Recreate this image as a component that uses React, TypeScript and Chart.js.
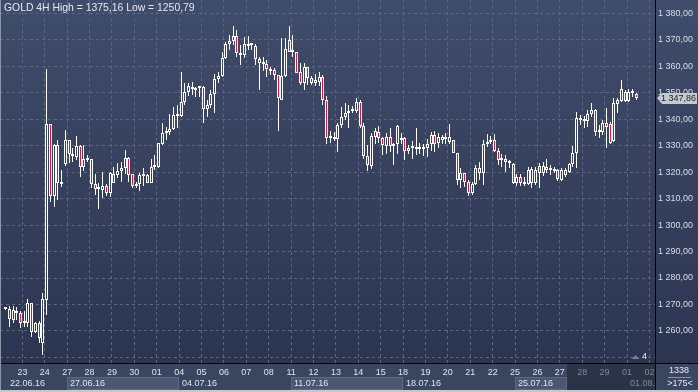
import React, { useEffect, useRef } from "react";
import { Chart, registerables } from "chart.js";
Chart.register(...registerables);

// GOLD 4H candles, index 1..170 (slot 0 empty)
const FIRST = 1;
const opens = [
  1268.6, 1268.2, 1264.3, 1267.6, 1266.6, 1262.9, 1262.9, 1270.4, 1259.7, 1262.9,
  1255.5, 1271.7, 1338.2, 1311.1, 1330.2, 1315.5, 1323.0, 1332.1, 1326.7, 1325.8,
  1329.8, 1322.0, 1324.6, 1324.9, 1315.5, 1313.5, 1313.2, 1314.7, 1312.0, 1316.0,
  1318.9, 1320.4, 1321.4, 1325.2, 1319.1, 1314.9, 1315.5, 1318.6, 1318.9, 1316.0,
  1321.8, 1321.8, 1330.6, 1334.6, 1335.3, 1336.1, 1341.2, 1341.2, 1346.6, 1350.1,
  1352.3, 1351.0, 1351.6, 1352.0, 1343.7, 1345.3, 1349.4, 1355.0, 1356.3, 1363.0,
  1368.4, 1369.6, 1371.4, 1364.1, 1364.1, 1368.4, 1367.9, 1367.6, 1362.6, 1361.3,
  1360.7, 1358.8, 1358.5, 1356.6, 1347.2, 1356.3, 1369.9, 1365.6, 1365.5, 1357.9,
  1353.5, 1359.6, 1355.4, 1353.5, 1354.1, 1355.8, 1347.4, 1332.7, 1333.1, 1332.5,
  1337.8, 1340.9, 1342.2, 1343.0, 1342.9, 1346.6, 1337.4, 1326.0, 1322.3, 1333.4,
  1335.3, 1332.7, 1329.8, 1333.1, 1329.8, 1330.8, 1332.7, 1332.7, 1328.0, 1329.0,
  1329.3, 1328.8, 1328.9, 1329.1, 1330.6, 1334.2, 1331.1, 1332.1, 1332.5, 1331.5,
  1332.1, 1327.3, 1317.0, 1319.5, 1316.4, 1312.0, 1315.5, 1321.4, 1319.8, 1330.5,
  1331.5, 1332.1, 1328.0, 1324.9, 1325.0, 1323.9, 1323.0, 1315.7, 1318.0, 1315.5,
  1315.5, 1315.7, 1315.7, 1322.3, 1319.5, 1322.0, 1321.4, 1320.8, 1320.8, 1317.0,
  1318.9, 1320.2, 1323.0, 1327.3, 1340.3, 1339.9, 1339.3, 1341.9, 1343.4, 1335.0,
  1335.0, 1338.4, 1338.2, 1331.7, 1345.9, 1347.0, 1350.4, 1347.0, 1350.0, 1349.5,
];
const highs = [
  1269.0, 1269.4, 1269.4, 1269.2, 1267.6, 1267.6, 1272.0, 1270.4, 1263.5, 1263.7,
  1274.4, 1358.8, 1338.2, 1330.6, 1332.1, 1320.8, 1335.9, 1332.1, 1329.0, 1333.6,
  1330.2, 1330.2, 1326.4, 1324.9, 1319.3, 1316.0, 1320.1, 1315.5, 1320.1, 1321.8,
  1323.5, 1323.9, 1328.3, 1325.8, 1319.1, 1316.4, 1319.5, 1321.4, 1319.3, 1324.8,
  1326.4, 1331.1, 1338.4, 1337.1, 1341.9, 1344.7, 1345.3, 1357.7, 1353.5, 1353.5,
  1354.1, 1352.0, 1352.5, 1352.5, 1347.2, 1351.0, 1357.0, 1357.9, 1365.5, 1369.3,
  1371.8, 1375.0, 1373.7, 1368.0, 1371.1, 1371.4, 1368.9, 1368.4, 1363.6, 1363.3,
  1362.3, 1359.6, 1359.2, 1356.6, 1370.5, 1370.5, 1375.16, 1371.8, 1365.5, 1361.1,
  1361.1, 1359.8, 1356.3, 1357.2, 1357.9, 1356.6, 1348.7, 1335.6, 1335.0, 1338.7,
  1344.4, 1346.1, 1345.5, 1344.9, 1347.8, 1347.2, 1338.7, 1330.2, 1334.8, 1336.5,
  1337.4, 1333.1, 1334.6, 1336.5, 1331.1, 1337.8, 1334.6, 1333.1, 1330.2, 1331.8,
  1336.8, 1331.1, 1330.5, 1332.5, 1335.3, 1335.5, 1334.6, 1334.2, 1334.6, 1338.2,
  1332.3, 1327.3, 1321.4, 1319.8, 1317.0, 1316.4, 1322.7, 1323.9, 1332.1, 1334.4,
  1333.6, 1334.4, 1329.0, 1327.0, 1326.5, 1324.6, 1323.3, 1319.3, 1319.3, 1318.3,
  1322.0, 1322.0, 1322.0, 1323.3, 1323.9, 1324.9, 1322.7, 1322.0, 1321.0, 1321.4,
  1321.4, 1323.3, 1329.8, 1342.6, 1341.6, 1341.0, 1343.4, 1346.0, 1344.0, 1337.8,
  1339.7, 1344.1, 1339.1, 1347.8, 1347.8, 1354.8, 1351.0, 1351.3, 1351.3, 1350.0,
];
const lows = [
  1268.0, 1261.6, 1262.9, 1264.1, 1261.0, 1261.6, 1261.6, 1257.8, 1259.1, 1255.5,
  1250.79, 1266.0, 1308.8, 1306.9, 1309.4, 1314.5, 1322.3, 1323.3, 1323.9, 1324.6,
  1318.0, 1320.5, 1323.9, 1313.9, 1311.3, 1305.9, 1310.1, 1311.0, 1310.5, 1316.0,
  1317.6, 1316.4, 1319.3, 1316.4, 1313.9, 1313.9, 1313.0, 1314.7, 1315.8, 1316.0,
  1320.8, 1321.4, 1330.2, 1332.1, 1334.0, 1335.9, 1336.5, 1340.7, 1345.3, 1348.7,
  1349.1, 1348.2, 1348.5, 1338.4, 1340.9, 1344.1, 1342.4, 1353.5, 1356.0, 1362.6,
  1366.1, 1368.0, 1363.6, 1360.4, 1363.0, 1366.1, 1366.1, 1360.4, 1351.0, 1358.0,
  1356.0, 1356.6, 1354.8, 1335.6, 1347.2, 1356.0, 1365.2, 1363.6, 1357.3, 1352.9,
  1351.0, 1352.9, 1352.9, 1352.5, 1352.5, 1345.4, 1330.5, 1331.1, 1331.8, 1327.7,
  1336.5, 1339.7, 1336.8, 1342.2, 1342.2, 1336.8, 1325.0, 1320.5, 1321.1, 1330.5,
  1331.0, 1326.5, 1327.0, 1327.7, 1322.7, 1326.7, 1330.8, 1324.6, 1327.0, 1324.9,
  1326.5, 1327.0, 1326.0, 1325.7, 1327.9, 1327.7, 1329.0, 1330.5, 1330.8, 1330.8,
  1327.1, 1315.1, 1313.9, 1314.5, 1310.8, 1311.3, 1315.1, 1317.0, 1315.1, 1329.6,
  1330.6, 1327.7, 1322.7, 1322.0, 1320.2, 1321.4, 1315.5, 1314.7, 1314.7, 1314.7,
  1315.1, 1313.9, 1315.1, 1313.9, 1318.5, 1319.5, 1318.9, 1319.5, 1316.6, 1316.6,
  1318.3, 1319.5, 1321.8, 1321.4, 1337.8, 1336.5, 1337.1, 1340.9, 1333.8, 1332.7,
  1334.0, 1329.0, 1330.6, 1331.5, 1342.2, 1346.6, 1346.6, 1346.6, 1348.5, 1347.2,
];
const closes = [
  1268.3, 1264.7, 1267.9, 1266.6, 1262.9, 1263.1, 1270.4, 1259.7, 1262.9, 1257.2,
  1271.9, 1338.2, 1311.1, 1330.2, 1316.0, 1316.1, 1332.1, 1326.7, 1326.1, 1329.8,
  1322.0, 1324.9, 1324.9, 1315.5, 1313.5, 1314.1, 1314.7, 1312.0, 1319.5, 1319.3,
  1320.4, 1321.4, 1325.2, 1319.0, 1314.9, 1315.5, 1318.9, 1318.9, 1316.0, 1322.0,
  1322.5, 1330.9, 1334.6, 1335.5, 1336.1, 1341.5, 1341.9, 1346.6, 1350.1, 1352.5,
  1351.2, 1351.2, 1352.0, 1343.7, 1345.3, 1349.4, 1355.0, 1356.4, 1363.0, 1368.4,
  1369.6, 1371.4, 1364.8, 1364.8, 1368.4, 1367.6, 1368.4, 1362.6, 1361.1, 1360.7,
  1358.8, 1358.2, 1356.6, 1347.8, 1356.3, 1366.4, 1365.5, 1365.2, 1357.5, 1353.5,
  1359.6, 1355.4, 1353.5, 1354.8, 1355.8, 1347.4, 1332.7, 1333.1, 1332.5, 1337.8,
  1340.9, 1342.2, 1343.2, 1343.2, 1346.6, 1337.4, 1326.0, 1322.7, 1333.6, 1335.5,
  1332.7, 1330.2, 1333.1, 1329.8, 1330.8, 1337.4, 1332.3, 1327.9, 1329.0, 1329.5,
  1328.8, 1329.3, 1329.3, 1330.8, 1334.2, 1330.5, 1333.1, 1333.1, 1333.1, 1333.1,
  1327.3, 1317.0, 1319.5, 1316.4, 1312.0, 1315.5, 1321.4, 1319.8, 1330.6, 1331.5,
  1332.1, 1328.0, 1324.6, 1324.6, 1323.9, 1323.3, 1315.7, 1318.0, 1315.7, 1316.4,
  1320.8, 1321.0, 1320.8, 1319.5, 1322.3, 1320.8, 1320.8, 1320.5, 1317.3, 1320.8,
  1320.8, 1323.0, 1327.3, 1340.3, 1339.7, 1339.3, 1341.9, 1343.4, 1335.0, 1335.9,
  1338.4, 1337.1, 1331.1, 1346.0, 1347.2, 1351.3, 1347.0, 1350.4, 1350.4, 1347.86,
];

const dayLabels = [
  "22", "23", "24", "27", "28", "29", "30", "01", "04", "05", "06", "07", "08", "11", "12",
  "13", "14", "15", "18", "19", "20", "21", "22", "25", "26", "27", "28", "29", "01", "02",
];
const weekDays = [0, 3, 8, 13, 18, 23, 28];
const weekLabels = ["22.06.16", "27.06.16", "04.07.16", "11.07.16", "18.07.16", "25.07.16", "01.08.16"];
const yTicks = [1250, 1260, 1270, 1280, 1290, 1300, 1310, 1320, 1330, 1340, 1350, 1360, 1370, 1380];
const title = "GOLD 4H High = 1375,16 Low = 1250,79";
const lastPrice = 1347.86;
const barsCount = "1338";
const visibleBars = ">175<";
const shiftLabel = "4";

const SLOTS_PER_DAY = 6;
const DIM_FROM = 151.5;
const RED = "#e0123c";
const WHITE = "#ffffff";
const FONT = "'Liberation Sans', Arial, sans-serif";

const fmt = (v: number) => {
  const s = v.toFixed(2).replace(".", ",");
  const [i, d] = s.split(",");
  return i.replace(/\B(?=(\d{3})+(?!\d))/g, " ") + "," + d;
};

export default function App() {
  const ref = useRef<HTMLCanvasElement>(null);
  useEffect(() => {
    document.body.style.margin = "0";
    const canvas = ref.current!;
    const xs = opens.map((_, i) => i + FIRST);
    const bodies = xs.map((x, i) => ({ x, y: [opens[i], closes[i]] }));
    const upper = xs.map((x, i) => ({ x, y: [Math.max(opens[i], closes[i]), highs[i]] }));
    const lower = xs.map((x, i) => ({ x, y: [lows[i], Math.min(opens[i], closes[i])] }));
    const bodyColors = xs.map((_, i) => (closes[i] < opens[i] ? RED : "rgba(0,0,0,0)"));

    const snap = {
      id: "snap",
      afterDatasetsUpdate(chart: any) {
        chart.data.datasets.forEach((_: any, di: number) => {
          const meta = chart.getDatasetMeta(di);
          meta.data.forEach((el: any) => {
            el.x = Math.floor(el.x) + 0.5;
            el.y = Math.round(el.y);
            el.base = Math.round(el.base);
          });
        });
      },
    };

    const overlay = {
      id: "overlay",
      beforeDraw(chart: any) {
        const { ctx, chartArea: a, width, height } = chart;
        ctx.save();
        const g = ctx.createLinearGradient(0, 0, 0, a.bottom);
        g.addColorStop(0, "#404c6b");
        g.addColorStop(1, "#2c3550");
        ctx.fillStyle = g;
        ctx.fillRect(0, 0, width, a.bottom);
        ctx.fillStyle = "#3a4560";
        ctx.fillRect(0, a.bottom, width, height - a.bottom);
        const xs = chart.scales.x;
        const dimX = Math.round(xs.getPixelForValue(DIM_FROM));
        for (let w = 1; w < weekDays.length; w += 2) {
          const x1 = Math.round(xs.getPixelForValue(weekDays[w] * SLOTS_PER_DAY - 0.5));
          const x2 = w + 1 < weekDays.length ? Math.round(xs.getPixelForValue(weekDays[w + 1] * SLOTS_PER_DAY - 0.5)) : a.right;
          const xe = Math.min(x2, dimX);
          if (xe > x1) {
            ctx.fillStyle = "#4b5670";
            ctx.fillRect(x1, 377, xe - x1, 13);
            ctx.strokeStyle = "#5d6882";
            ctx.lineWidth = 1;
            ctx.strokeRect(x1 + 0.5, 377.5, xe - x1 - 1, 12);
          }
        }
        ctx.fillStyle = "#2b3347";
        ctx.fillRect(dimX, a.bottom, a.right - dimX, height - a.bottom - 2);
        ctx.restore();
      },
      afterDraw(chart: any) {
        const { ctx, chartArea: a, width, height } = chart;
        const xs = chart.scales.x;
        const ys = chart.scales.y;
        const dimX = xs.getPixelForValue(DIM_FROM);
        ctx.save();
        ctx.textBaseline = "middle";
        ctx.textAlign = "left";
        // title
        ctx.font = `10.4px ${FONT}`;
        ctx.fillStyle = "#e3e8f1";
        ctx.fillText(title, 4, 8);
        ctx.font = `9px ${FONT}`;
        // week labels
        ctx.save();
        ctx.beginPath();
        ctx.rect(0, a.bottom, a.right, height - a.bottom);
        ctx.clip();
        weekDays.forEach((d, w) => {
          const px = Math.round(xs.getPixelForValue(d * SLOTS_PER_DAY - 0.5));
          const tx = Math.max(px + 3, 10);
          ctx.fillStyle = tx > dimX ? "#7d8699" : "#dde3ee";
          ctx.fillText(weekLabels[w], tx, 383.5);
        });
        ctx.restore();
        // borders
        ctx.fillStyle = "#000000";
        ctx.fillRect(0, Math.round(a.bottom), width, 1);
        ctx.fillRect(Math.round(a.right), 0, 1, height);
        ctx.fillStyle = "#8a96ab";
        ctx.fillRect(0, 0, 1, height);
        ctx.fillStyle = "#c3c7ce";
        ctx.fillRect(0, height - 2, width, 2);
        // shift marker
        ctx.fillStyle = "#7a8396";
        ctx.beginPath();
        ctx.moveTo(632, 359);
        ctx.lineTo(635.5, 355);
        ctx.lineTo(639, 359);
        ctx.closePath();
        ctx.fill();
        ctx.fillStyle = "#e3e8f1";
        ctx.fillText(shiftLabel, 642, 357);
        // price tag
        const py = Math.round(ys.getPixelForValue(lastPrice));
        ctx.fillStyle = "#c4c8cf";
        ctx.beginPath();
        ctx.moveTo(657, py);
        ctx.lineTo(662, py - 5);
        ctx.lineTo(697, py - 5);
        ctx.lineTo(697, py + 6);
        ctx.lineTo(662, py + 6);
        ctx.closePath();
        ctx.fill();
        ctx.fillStyle = "#1c1f26";
        ctx.fillText(fmt(lastPrice), 661, py + 0.5);
        // bottom-right panel
        ctx.fillStyle = "#e3e8f1";
        ctx.textAlign = "center";
        ctx.fillText(barsCount, 679, 371);
        ctx.fillText(visibleBars, 680, 384);
        ctx.fillStyle = "#8a93a5";
        ctx.fillRect(668, 377, 23, 1);
        ctx.restore();
      },
    };

    const chart = new Chart(canvas, {
      type: "bar",
      data: {
        datasets: [
          {
            data: bodies as any,
            backgroundColor: bodyColors,
            borderColor: WHITE,
            borderWidth: 1,
            borderSkipped: false,
            barThickness: 3,
            minBarLength: 2,
            grouped: false,
            inflateAmount: 0,
          } as any,
          {
            data: upper as any,
            backgroundColor: WHITE,
            borderWidth: 0,
            barThickness: 1,
            grouped: false,
            inflateAmount: 0,
          } as any,
          {
            data: lower as any,
            backgroundColor: WHITE,
            borderWidth: 0,
            barThickness: 1,
            grouped: false,
            inflateAmount: 0,
          } as any,
        ],
      },
      options: {
        animation: false,
        responsive: false,
        devicePixelRatio: 1,
        layout: { padding: 0 },
        plugins: { legend: { display: false }, tooltip: { enabled: false } },
        scales: {
          x: {
            type: "linear",
            offset: false,
            min: -0.5,
            max: 175.0,
            afterFit: (s: any) => {
              s.height = 29;
              s.paddingLeft = 0;
              s.paddingRight = 0;
            },
            afterBuildTicks: (s: any) => {
              s.ticks = dayLabels.slice(1).map((_, k) => ({ value: (k + 1) * SLOTS_PER_DAY - 0.5 }));
            },
            ticks: {
              autoSkip: false,
              maxRotation: 0,
              padding: 4,
              font: { size: 9, family: FONT },
              color: (c: any) => (c.tick && c.tick.value > DIM_FROM ? "#7d8699" : "#dde3ee"),
              callback: (v: any) => dayLabels[Math.round((Number(v) + 0.5) / SLOTS_PER_DAY)] ?? "",
            },
            grid: { color: "#5a6682", lineWidth: 1, drawTicks: false, offset: false },
            border: { color: "#000000", width: 1, dash: [3, 3] },
          },
          y: {
            type: "linear",
            position: "right",
            min: 1247.9,
            max: 1385.0,
            afterFit: (s: any) => {
              s.width = 43;
              s.paddingTop = 0;
              s.paddingBottom = 0;
            },
            afterBuildTicks: (s: any) => {
              s.ticks = yTicks.map((v) => ({ value: v }));
            },
            ticks: {
              padding: 3,
              font: { size: 9, family: FONT },
              color: "#d6ddea",
              callback: (v: any) => (Number(v) === 1250 ? "" : fmt(Number(v))),
            },
            grid: { color: "#5a6682", lineWidth: 1, drawTicks: false },
            border: { color: "#000000", width: 1, dash: [3, 3] },
          },
        },
      },
      plugins: [snap, overlay],
    } as any);
    return () => chart.destroy();
  }, []);
  return (
    <div style={{ width: 698, height: 392 }}>
      <canvas ref={ref} width={698} height={392} style={{ display: "block" }} />
    </div>
  );
}
